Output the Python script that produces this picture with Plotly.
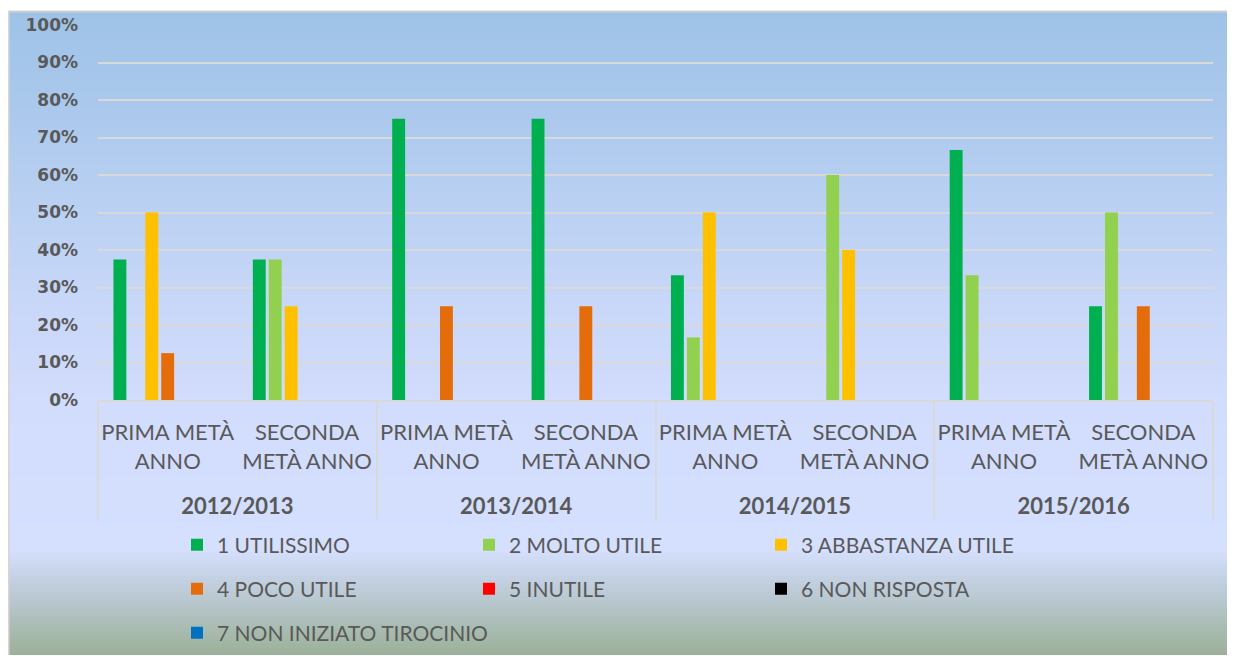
import plotly.graph_objects as go

# ---- data ----
years = ["2012/2013", "2013/2014", "2014/2015", "2015/2016"]
halves = ["PRIMA METÀ<br>ANNO", "SECONDA<br>METÀ ANNO"]
series_names = ["1 UTILISSIMO", "2 MOLTO UTILE", "3 ABBASTANZA UTILE", "4 POCO UTILE",
                "5 INUTILE", "6 NON RISPOSTA", "7 NON INIZIATO TIROCINIO"]
utilissimo = [0.375, 0.375, 0.75, 0.75, 0.333, 0.0, 0.667, 0.25]
molto_utile = [0.0, 0.375, 0.0, 0.0, 0.167, 0.60, 0.333, 0.50]
abbastanza_utile = [0.50, 0.25, 0.0, 0.0, 0.50, 0.40, 0.0, 0.0]
poco_utile = [0.125, 0.0, 0.25, 0.25, 0.0, 0.0, 0.0, 0.25]
inutile = [0.0, 0.0, 0.0, 0.0, 0.0, 0.0, 0.0, 0.0]
non_risposta = [0.0, 0.0, 0.0, 0.0, 0.0, 0.0, 0.0, 0.0]
non_iniziato = [0.0, 0.0, 0.0, 0.0, 0.0, 0.0, 0.0, 0.0]
y_ticks = [0, 0.1, 0.2, 0.3, 0.4, 0.5, 0.6, 0.7, 0.8, 0.9, 1.0]

# ---- styling ----
colors = ["#00b050", "#92d050", "#ffc000", "#e46c0a", "#ff0000", "#000000", "#0070c0"]
legends = ["legend", "legend", "legend", "legend2", "legend2", "legend2", "legend3"]
values = [utilissimo, molto_utile, abbastanza_utile, poco_utile, inutile, non_risposta, non_iniziato]

W, H = 1219, 647
ML, MR, MT, MB = 90, 14, 17, 255
PW = W - ML - MR
PH = H - MT - MB

def px_x(x):
    return (x - ML) / PW

def px_y(y):
    return (H - MB - y) / PH

x_outer = [f"<b>{y}</b>" for y in years for _ in halves]
# trailing blank line adds spacing between the two label levels
x_inner = [h + "<br>\u00a0" for _ in years for h in halves]

fig = go.Figure()
for name, vals, col, lg in zip(series_names, values, colors, legends):
    fig.add_trace(go.Bar(
        x=[x_outer, x_inner], y=vals, name=name,
        marker=dict(color=col, line=dict(width=0)),
        legend=lg,
    ))

# gradient background built from thin strips
stops = [(4, (0x9e, 0xc3, 0xe6)), (92, (0xa9, 0xc8, 0xec)), (192, (0xb9, 0xd0, 0xf2)),
         (292, (0xc8, 0xd7, 0xf8)), (392, (0xd2, 0xdc, 0xfc)), (542, (0xd5, 0xdf, 0xfe)),
         (567, (0xc6, 0xd2, 0xe6)), (592, (0xb9, 0xc8, 0xcf)), (617, (0xab, 0xbd, 0xb5)),
         (647, (0x9b, 0xb0, 0x98))]

def col_at(y):
    for (y0, c0), (y1, c1) in zip(stops[:-1], stops[1:]):
        if y0 <= y <= y1:
            t = (y - y0) / (y1 - y0)
            return "rgb(%d,%d,%d)" % tuple(round(a + (b - a) * t) for a, b in zip(c0, c1))
    return "rgb(%d,%d,%d)" % stops[-1][1]

shapes = []
step = 4
y = 4
while y < H:
    y2 = min(y + step, H)
    shapes.append(dict(type="rect", xref="paper", yref="paper", layer="below",
                       x0=px_x(0), x1=px_x(W), y0=px_y(y2 + 0.5), y1=px_y(y),
                       fillcolor=col_at((y + y2) / 2), line=dict(width=0)))
    y = y2
shapes.append(dict(type="line", xref="paper", yref="paper", layer="below",
                   x0=px_x(0), x1=px_x(W), y0=px_y(3.5), y1=px_y(3.5),
                   line=dict(color="#d0d0d0", width=2)))
shapes.append(dict(type="line", xref="paper", yref="paper", layer="below",
                   x0=px_x(0.5), x1=px_x(0.5), y0=px_y(3), y1=px_y(H),
                   line=dict(color="#d6d6d6", width=2)))

legend_common = dict(orientation="h", xanchor="left", yanchor="middle",
                     x=px_x(169), entrywidth=247, entrywidthmode="pixels",
                     bgcolor="rgba(0,0,0,0)",
                     font=dict(family="Lato", size=21, color="#595959"))
legend_last = dict(legend_common)
legend_last.pop("entrywidth")
legend_last.pop("entrywidthmode")

fig.update_layout(
    width=W, height=H,
    margin=dict(l=ML, r=MR, t=MT, b=MB, autoexpand=False),
    paper_bgcolor="white",
    plot_bgcolor="rgba(0,0,0,0)",
    barmode="group", bargap=0.2, bargroupgap=0.19,
    shapes=shapes,
    showlegend=True,
    legend=dict(legend_common, y=px_y(537)),
    legend2=dict(legend_common, y=px_y(581)),
    legend3=dict(legend_last, y=px_y(625)),
    xaxis=dict(type="multicategory", tickangle=0, showline=True, linecolor="#d9d9d9", linewidth=1.5,
               showdividers=True, dividercolor="#d9d9d9", dividerwidth=1.5,
               ticklabelstandoff=12,
               tickfont=dict(family="Lato", size=22, color="#595959"),
               showgrid=False, zeroline=False),
    yaxis=dict(range=[0, 1], tickvals=y_ticks, tickformat=".0%",
               showgrid=True, gridcolor="#d9d9d9", gridwidth=1.5,
               zeroline=False, showline=False, ticklabelstandoff=19,
               tickfont=dict(family="DejaVu Sans", size=17, color="#595959", weight="bold")),
)

fig.write_html("out.html")
